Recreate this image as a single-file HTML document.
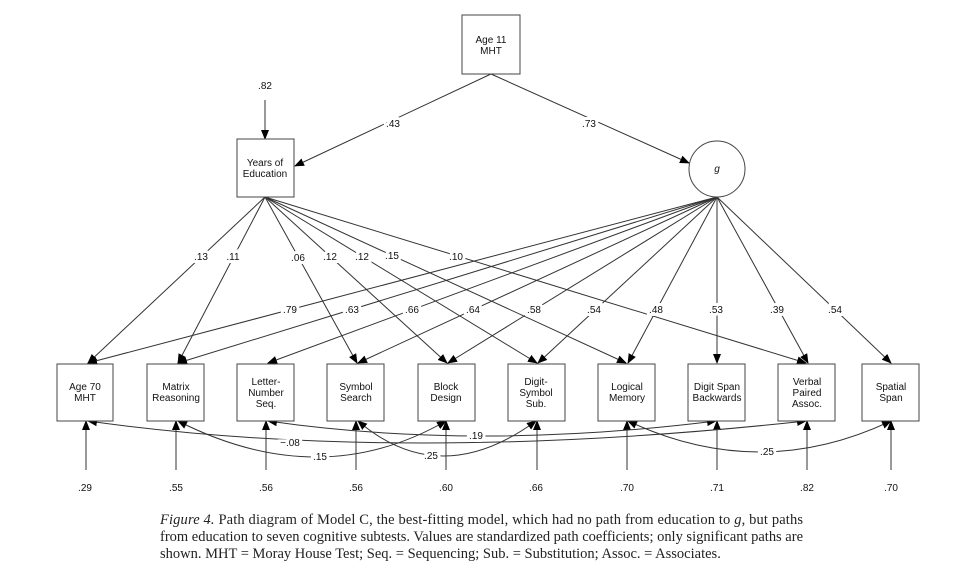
<!DOCTYPE html>
<html><head><meta charset="utf-8"><style>
body{margin:0;background:#fff}
svg text{font-family:"Liberation Sans",sans-serif;font-size:10px;fill:#111}
.lbl{paint-order:stroke;stroke:#fff;stroke-width:6px}
.cap{font-family:"Liberation Serif",serif;font-size:14.5px;fill:#222}
</style></head><body>
<svg width="963" height="567" viewBox="0 0 963 567" xmlns="http://www.w3.org/2000/svg">
<defs>
<marker id="a" markerWidth="10" markerHeight="8" refX="9" refY="4" orient="auto" markerUnits="userSpaceOnUse">
<path d="M0,0 L10,4 L0,8 z" fill="#000"/></marker>
<marker id="s" markerWidth="10" markerHeight="8" refX="1" refY="4" orient="auto" markerUnits="userSpaceOnUse">
<path d="M10,0 L0,4 L10,8 z" fill="#000"/></marker>
</defs>
<g stroke="#333" stroke-width="1" fill="none">
<line x1="491" y1="74" x2="295" y2="166" marker-end="url(#a)"/>
<line x1="491" y1="74" x2="689" y2="163" marker-end="url(#a)"/>
<line x1="265" y1="100" x2="265" y2="139" marker-end="url(#a)"/>
<line x1="265" y1="197" x2="88" y2="363" marker-end="url(#a)"/>
<line x1="265" y1="197" x2="178" y2="363" marker-end="url(#a)"/>
<line x1="265" y1="197" x2="357" y2="363" marker-end="url(#a)"/>
<line x1="265" y1="197" x2="447" y2="363" marker-end="url(#a)"/>
<line x1="265" y1="197" x2="537" y2="363" marker-end="url(#a)"/>
<line x1="265" y1="197" x2="626" y2="363" marker-end="url(#a)"/>
<line x1="265" y1="197" x2="806" y2="363" marker-end="url(#a)"/>
<line x1="717" y1="197" x2="88" y2="363" marker-end="url(#a)"/>
<line x1="717" y1="197" x2="178" y2="363" marker-end="url(#a)"/>
<line x1="717" y1="197" x2="268" y2="363" marker-end="url(#a)"/>
<line x1="717" y1="197" x2="358" y2="363" marker-end="url(#a)"/>
<line x1="717" y1="197" x2="448" y2="363" marker-end="url(#a)"/>
<line x1="717" y1="197" x2="538" y2="363" marker-end="url(#a)"/>
<line x1="717" y1="197" x2="628" y2="363" marker-end="url(#a)"/>
<line x1="717" y1="197" x2="717" y2="363" marker-end="url(#a)"/>
<line x1="717" y1="197" x2="808" y2="363" marker-end="url(#a)"/>
<line x1="717" y1="197" x2="891" y2="363" marker-end="url(#a)"/>
<line x1="86" y1="470" x2="86" y2="421" marker-end="url(#a)"/>
<line x1="176" y1="470" x2="176" y2="421" marker-end="url(#a)"/>
<line x1="266" y1="470" x2="266" y2="421" marker-end="url(#a)"/>
<line x1="356" y1="470" x2="356" y2="421" marker-end="url(#a)"/>
<line x1="446" y1="470" x2="446" y2="421" marker-end="url(#a)"/>
<line x1="537" y1="470" x2="537" y2="421" marker-end="url(#a)"/>
<line x1="627" y1="470" x2="627" y2="421" marker-end="url(#a)"/>
<line x1="717" y1="470" x2="717" y2="421" marker-end="url(#a)"/>
<line x1="807" y1="470" x2="807" y2="421" marker-end="url(#a)"/>
<line x1="891" y1="470" x2="891" y2="421" marker-end="url(#a)"/>
<path d="M88,421 Q400,465 806,421" marker-start="url(#s)" marker-end="url(#a)"/>
<path d="M268,421 Q476,451 716,421" marker-start="url(#s)" marker-end="url(#a)"/>
<path d="M178,421 Q320,493 446,421" marker-start="url(#s)" marker-end="url(#a)"/>
<path d="M358,421 Q440,491 536,421" marker-start="url(#s)" marker-end="url(#a)"/>
<path d="M628,421 Q760,483 891,421" marker-start="url(#s)" marker-end="url(#a)"/>
</g>
<g stroke="#444" stroke-width="1" fill="#fff">
<rect x="462" y="15" width="58" height="59"/>
<rect x="237" y="139" width="57" height="58"/>
<circle cx="717" cy="169" r="28"/>
<rect x="57" y="364" width="56" height="57"/>
<rect x="147" y="364" width="57" height="57"/>
<rect x="237" y="364" width="57" height="57"/>
<rect x="327" y="364" width="57" height="57"/>
<rect x="418" y="364" width="57" height="57"/>
<rect x="508" y="364" width="57" height="57"/>
<rect x="598" y="364" width="57" height="57"/>
<rect x="688" y="364" width="57" height="57"/>
<rect x="778" y="364" width="57" height="57"/>
<rect x="862" y="364" width="57" height="57"/>
</g>
<g text-anchor="middle" font-size="9.5">
<text x="491" y="43">Age 11</text><text x="491" y="54">MHT</text>
<text x="265" y="166">Years of</text><text x="265" y="177">Education</text>
<text x="717" y="172" font-style="italic">g</text>
<text x="85" y="390">Age 70</text><text x="85" y="401">MHT</text>
<text x="176" y="390">Matrix</text><text x="176" y="401">Reasoning</text>
<text x="266" y="385">Letter-</text><text x="266" y="396">Number</text><text x="266" y="407">Seq.</text>
<text x="356" y="390">Symbol</text><text x="356" y="401">Search</text>
<text x="446" y="390">Block</text><text x="446" y="401">Design</text>
<text x="536" y="385">Digit-</text><text x="536" y="396">Symbol</text><text x="536" y="407">Sub.</text>
<text x="627" y="390">Logical</text><text x="627" y="401">Memory</text>
<text x="717" y="390">Digit Span</text><text x="717" y="401">Backwards</text>
<text x="807" y="385">Verbal</text><text x="807" y="396">Paired</text><text x="807" y="407">Assoc.</text>
<text x="891" y="390">Spatial</text><text x="891" y="401">Span</text>
</g>
<g text-anchor="middle" class="lbl">
<text x="265" y="89">.82</text>
<text x="393" y="127">.43</text>
<text x="589" y="127">.73</text>
<text x="201" y="260">.13</text><text x="233" y="260">.11</text>
<text x="298" y="261">.06</text><text x="330" y="260">.12</text>
<text x="362" y="260">.12</text><text x="392" y="259">.15</text>
<text x="456" y="260">.10</text>
<text x="290" y="313">.79</text><text x="352" y="313">.63</text>
<text x="412" y="313">.66</text><text x="473" y="313">.64</text>
<text x="534" y="313">.58</text><text x="594" y="313">.54</text>
<text x="656" y="313">.48</text><text x="716" y="313">.53</text>
<text x="777" y="313">.39</text><text x="835" y="313">.54</text>
<text x="290" y="446">−.08</text>
<text x="476" y="439">.19</text>
<text x="320" y="460">.15</text>
<text x="431" y="459">.25</text>
<text x="767" y="455">.25</text>
</g>
<g text-anchor="middle">
<text x="85" y="491">.29</text><text x="176" y="491">.55</text><text x="266" y="491">.56</text>
<text x="356" y="491">.56</text><text x="446" y="491">.60</text><text x="536" y="491">.66</text>
<text x="627" y="491">.70</text><text x="717" y="491">.71</text><text x="807" y="491">.82</text>
<text x="891" y="491">.70</text>
</g>
<text class="cap" x="160" y="524" textLength="643" lengthAdjust="spacing"><tspan font-style="italic">Figure 4.</tspan>   Path diagram of Model C, the best-fitting model, which had no path from education to <tspan font-style="italic">g</tspan>, but paths</text>
<text class="cap" x="160" y="541" textLength="643" lengthAdjust="spacing">from education to seven cognitive subtests. Values are standardized path coefficients; only significant paths are</text>
<text class="cap" x="160" y="558">shown. MHT = Moray House Test; Seq. = Sequencing; Sub. = Substitution; Assoc. = Associates.</text>
</svg>
</body></html>
